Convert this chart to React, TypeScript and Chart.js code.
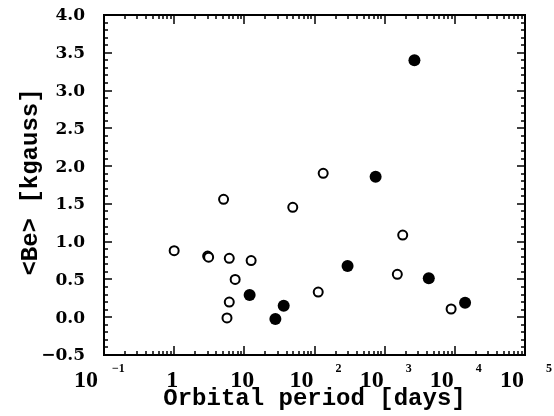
import React, { useEffect, useRef } from "react";
import { Chart, registerables } from "chart.js";

Chart.register(...registerables);

// Open circles
const openPeriod = [1.0, 3.0, 3.1, 6.1, 12.5, 7.4, 6.1, 5.66, 5.06, 49, 133, 113, 1515, 1808, 8850];
const openBe = [0.88, 0.81, 0.795, 0.78, 0.75, 0.5, 0.2, -0.01, 1.56, 1.455, 1.905, 0.333, 0.568, 1.088, 0.109];
// Filled circles
const filledPeriod = [11.9, 27.7, 36.4, 296, 743, 2655, 4253, 14000];
const filledBe = [0.294, -0.024, 0.152, 0.678, 1.86, 3.4, 0.515, 0.19];

const xDecades = [-1, 0, 1, 2, 3, 4, 5];
const yTickValues = [-0.5, 0, 0.5, 1, 1.5, 2, 2.5, 3, 3.5, 4];
const xTitle = "Orbital period [days]";
const yTitle = "<Be> [kgauss]";

const labelFont = "bold 17px 'DejaVu Serif'";
const xBaseFont = "bold 24px 'Liberation Serif'";
const xExpFont = "bold 12px 'Liberation Serif'";
const titleFont = "bold 24px 'Liberation Mono'";

const framePlugin = {
  id: "framePlugin",
  afterDraw(chart: any) {
    const { ctx, chartArea: a, scales } = chart;
    const xs = scales.x;
    const ys = scales.y;
    ctx.save();
    ctx.strokeStyle = "#000";
    ctx.fillStyle = "#000";
    ctx.lineWidth = 2;
    ctx.strokeRect(a.left, a.top, a.right - a.left, a.bottom - a.top);

    ctx.lineWidth = 1.5;
    ctx.beginPath();
    // y ticks (every 0.1, major every 0.5)
    for (let i = 0; i <= 45; i++) {
      const v = -0.5 + i * 0.1;
      const py = Math.round(ys.getPixelForValue(v));
      const len = i % 5 === 0 ? 8 : 4;
      ctx.moveTo(a.left, py);
      ctx.lineTo(a.left + len, py);
      ctx.moveTo(a.right, py);
      ctx.lineTo(a.right - len, py);
    }
    // x ticks (log)
    for (let d = xDecades[0]; d <= xDecades[xDecades.length - 1]; d++) {
      for (let m = 1; m <= 9; m++) {
        if (d === xDecades[xDecades.length - 1] && m > 1) break;
        const v = m * Math.pow(10, d);
        const px = Math.round(xs.getPixelForValue(v));
        const len = m === 1 ? 9 : 4;
        ctx.moveTo(px, a.bottom);
        ctx.lineTo(px, a.bottom - len);
        ctx.moveTo(px, a.top);
        ctx.lineTo(px, a.top + len);
      }
    }
    ctx.stroke();

    // y tick labels
    ctx.font = labelFont;
    ctx.textAlign = "right";
    ctx.textBaseline = "middle";
    for (const v of yTickValues) {
      const py = ys.getPixelForValue(v);
      const txt = v < 0 ? "\u2212" + Math.abs(v).toFixed(1) : v.toFixed(1);
      ctx.fillText(txt, a.left - 19, py + 1);
    }

    // x tick labels
    ctx.textBaseline = "alphabetic";
    const baseY = a.bottom + 32;
    for (const e of xDecades) {
      const px = xs.getPixelForValue(Math.pow(10, e));
      if (e === 0 || e === 1) {
        ctx.font = xBaseFont;
        ctx.textAlign = "center";
        ctx.fillText(e === 0 ? "1" : "10", px - 2, baseY);
      } else {
        ctx.font = xBaseFont;
        ctx.textAlign = "right";
        ctx.fillText("10", px - (e < 0 ? 6 : 1), baseY);
        ctx.font = xExpFont;
        ctx.textAlign = "left";
        const expTxt = e < 0 ? "\u2212" + Math.abs(e) : String(e);
        ctx.fillText(expTxt, px + (e < 0 ? 8 : 21), baseY - 15);
      }
    }

    // titles
    ctx.font = titleFont;
    ctx.textAlign = "center";
    ctx.fillText(xTitle, (a.left + a.right) / 2, a.bottom + 50);

    ctx.save();
    ctx.translate(37, (a.top + a.bottom) / 2 - 3);
    ctx.rotate(-Math.PI / 2);
    ctx.fillText(yTitle, 0, 0);
    ctx.restore();

    ctx.restore();
  },
};

export default function App() {
  const ref = useRef<HTMLCanvasElement | null>(null);
  useEffect(() => {
    if (!ref.current) return;
    const chart = new Chart(ref.current, {
      type: "scatter",
      data: {
        datasets: [
          {
            label: "open",
            data: openPeriod.map((p, i) => ({ x: p, y: openBe[i] })),
            pointStyle: "circle",
            pointRadius: 4.5,
            pointBorderWidth: 2,
            pointBackgroundColor: "#fff",
            pointBorderColor: "#000",
          },
          {
            label: "filled",
            data: filledPeriod.map((p, i) => ({ x: p, y: filledBe[i] })),
            pointStyle: "circle",
            pointRadius: 6,
            pointBorderWidth: 0,
            pointBackgroundColor: "#000",
            pointBorderColor: "#000",
          },
        ],
      },
      options: {
        responsive: false,
        animation: false,
        layout: { padding: { left: 104, right: 29, top: 15, bottom: 61 } },
        plugins: { legend: { display: false }, tooltip: { enabled: false } },
        scales: {
          x: { type: "logarithmic", min: 0.1, max: 100000, display: false },
          y: { type: "linear", min: -0.5, max: 4.0, display: false },
        },
      },
      plugins: [framePlugin],
    });
    return () => chart.destroy();
  }, []);
  return (
    <canvas
      ref={ref}
      width={554}
      height={416}
      style={{ position: "absolute", left: 0, top: 0, background: "#fff" }}
    />
  );
}
